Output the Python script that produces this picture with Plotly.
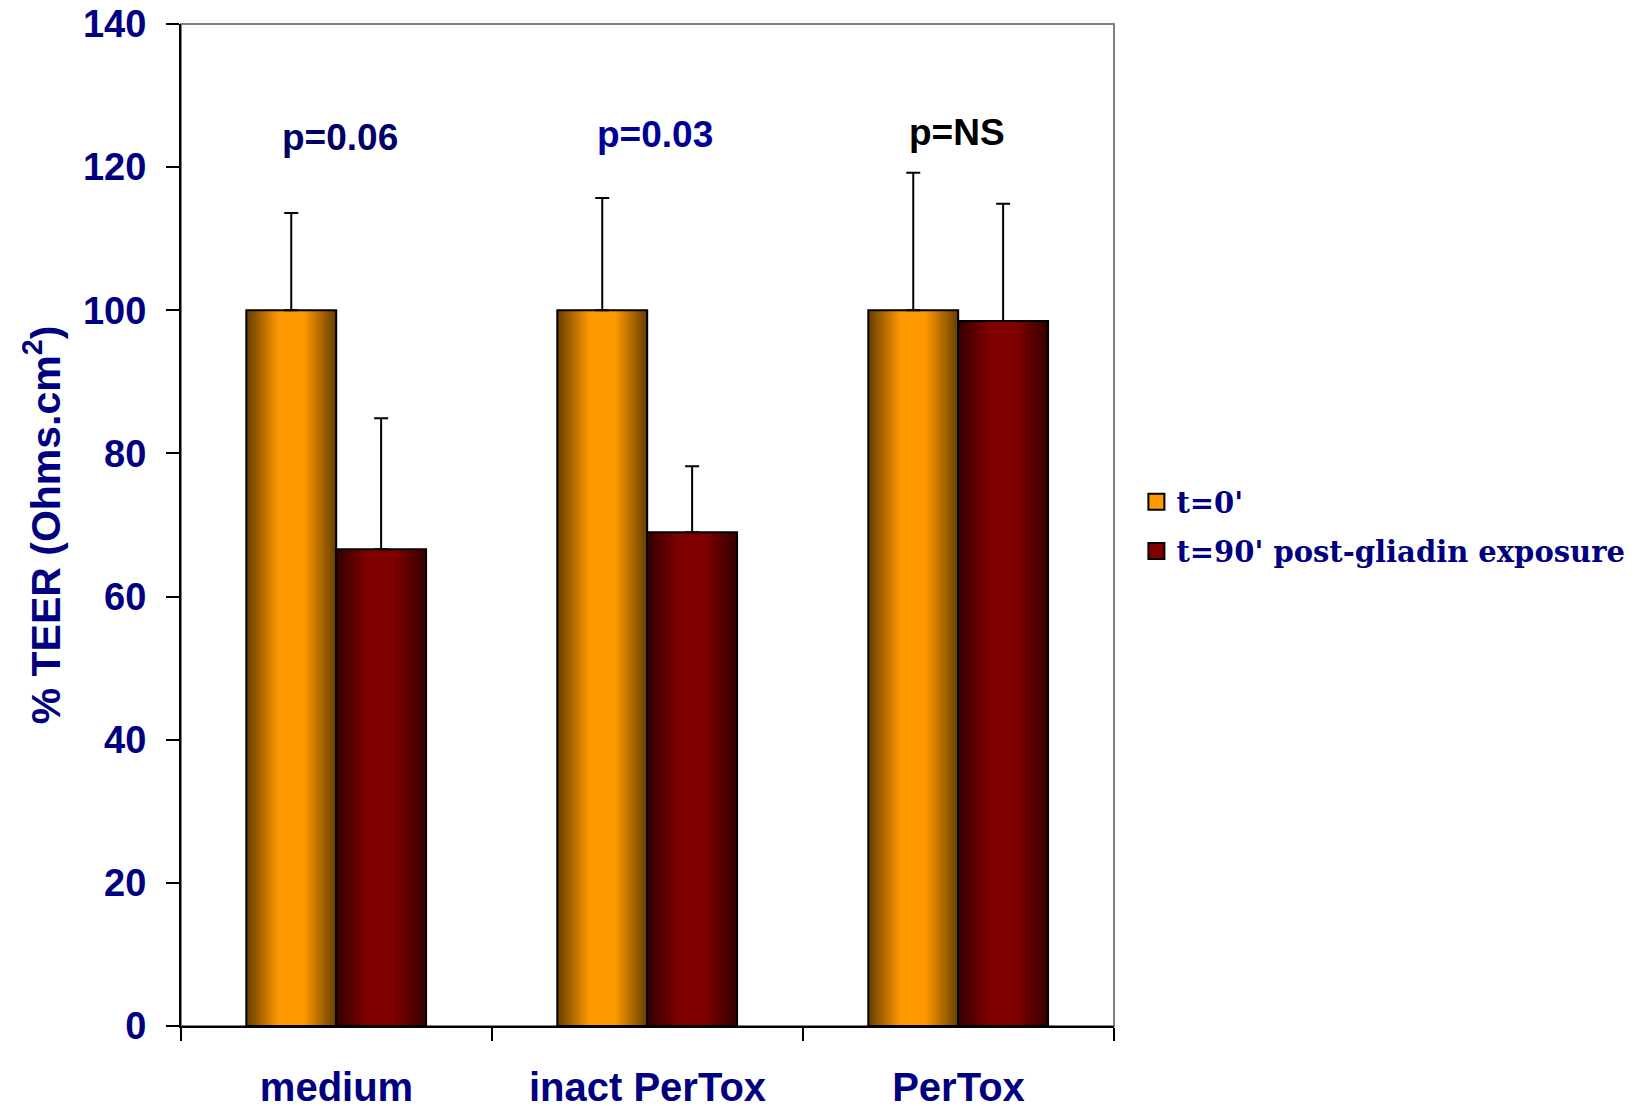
import plotly.graph_objects as go

# ---- data ----
categories = ["medium", "inact PerTox", "PerTox"]
t0_values = [100, 100, 100]
t90_values = [66.6, 69.0, 98.5]
t0_err_plus = [13.6, 15.7, 19.2]
t90_err_plus = [18.3, 9.2, 16.4]
series_names = ["t=0'", "t=90' post-gliadin exposure"]
p_labels = ["p=0.06", "p=0.03", "p=NS"]
p_label_y = [124.2, 124.5, 124.9]
y_ticks = [0, 20, 40, 60, 80, 100, 120, 140]

NAVY = "#000080"
SANS = "Liberation Sans, Arial, sans-serif"
SERIF = "DejaVu Serif, serif"

fig = go.Figure()

def shade(rgb, f):
    return "rgb(%d,%d,%d)" % tuple(int(round(c * f)) for c in rgb)

def profile(d):
    # d: 0 at bar center, 1 at bar edge
    if d < 0.3:
        return 1.0
    return 1.0 - 0.58 * ((d - 0.3) / 0.7)

series = [
    (t0_values, t0_err_plus, (255, 153, 0), -0.29, 0.289),
    (t90_values, t90_err_plus, (128, 0, 0), -0.001, 0.289),
]

N = 24
for vals, errs, rgb, left, width in series:
    center = left + width / 2
    for i in range(N):
        frac = 1 - i / N
        w = width * frac
        fig.add_trace(go.Bar(
            x=categories, y=vals, width=w, offset=center - w / 2,
            marker=dict(color=shade(rgb, profile(frac)), line=dict(width=0)),
            showlegend=False, hoverinfo="skip",
        ))
    fig.add_trace(go.Bar(
        x=categories, y=vals, width=width, offset=left,
        marker=dict(color="rgba(0,0,0,0)", line=dict(color="black", width=2)),
        error_y=dict(type="data", symmetric=False, array=errs,
                     arrayminus=[0] * len(errs), color="black",
                     thickness=2, width=7),
        showlegend=False,
    ))

# legend entries
legend_colors = ["#ff9900", "#800000"]
for k, (name, col) in enumerate(zip(series_names, legend_colors)):
    fig.add_trace(go.Scatter(
        x=[categories[0]], y=[None], mode="markers", name=name,
        marker=dict(symbol="square", size=16, color=col,
                    line=dict(color="black", width=2)),
        legend="legend" if k == 0 else "legend2",
    ))

# p-value annotations
p_colors = ["#000066", "#000099", "#000000"]
p_shift = [3, 7, -2]
for cat, txt, yy, col, xs in zip(categories, p_labels, p_label_y, p_colors, p_shift):
    fig.add_annotation(x=cat, y=yy, text=txt, showarrow=False, xshift=xs,
                       font=dict(family=SANS, size=37, color=col, weight="bold"))

# gray frame (top & right)
fig.add_shape(type="rect", xref="paper", yref="paper", x0=0, y0=0, x1=1, y1=1,
              line=dict(color="#808080", width=2), layer="below")

legend_font = dict(family=SERIF, size=29, color=NAVY, weight="bold")
fig.update_layout(
    width=1637, height=1098,
    margin=dict(l=173, r=531, t=16, b=80, autoexpand=False),
    paper_bgcolor="white", plot_bgcolor="white",
    barmode="overlay",
    showlegend=True,
    legend=dict(x=1.024, y=0.523, xanchor="left", yanchor="middle",
                font=legend_font, bgcolor="rgba(0,0,0,0)"),
    legend2=dict(x=1.024, y=0.474, xanchor="left", yanchor="middle",
                 font=legend_font, bgcolor="rgba(0,0,0,0)"),
    xaxis=dict(
        type="category", categoryorder="array", categoryarray=categories,
        range=[-0.5, 2.5], tickson="boundaries", ticks="outside",
        ticklen=13, tickwidth=2, tickcolor="black",
        showline=True, linecolor="black", linewidth=2,
        showgrid=False, zeroline=False, automargin=False,
        tickfont=dict(family=SANS, size=40, color=NAVY, weight="bold"),
        ticklabelstandoff=25, ticklabeloverflow="allow",
    ),
    yaxis=dict(
        range=[0, 140], tickvals=y_ticks, ticks="outside",
        ticklen=13, tickwidth=2, tickcolor="black",
        showline=True, linecolor="black", linewidth=2,
        showgrid=False, zeroline=False, automargin=False,
        tickfont=dict(family=SANS, size=38, color=NAVY, weight="bold"),
        ticklabelstandoff=12, ticklabeloverflow="allow",
        title=dict(text="% TEER (Ohms.cm<sup>2</sup>)", standoff=10,
                   font=dict(family=SANS, size=41, color=NAVY, weight="bold")),
    ),
)

fig.write_html("out.html")
